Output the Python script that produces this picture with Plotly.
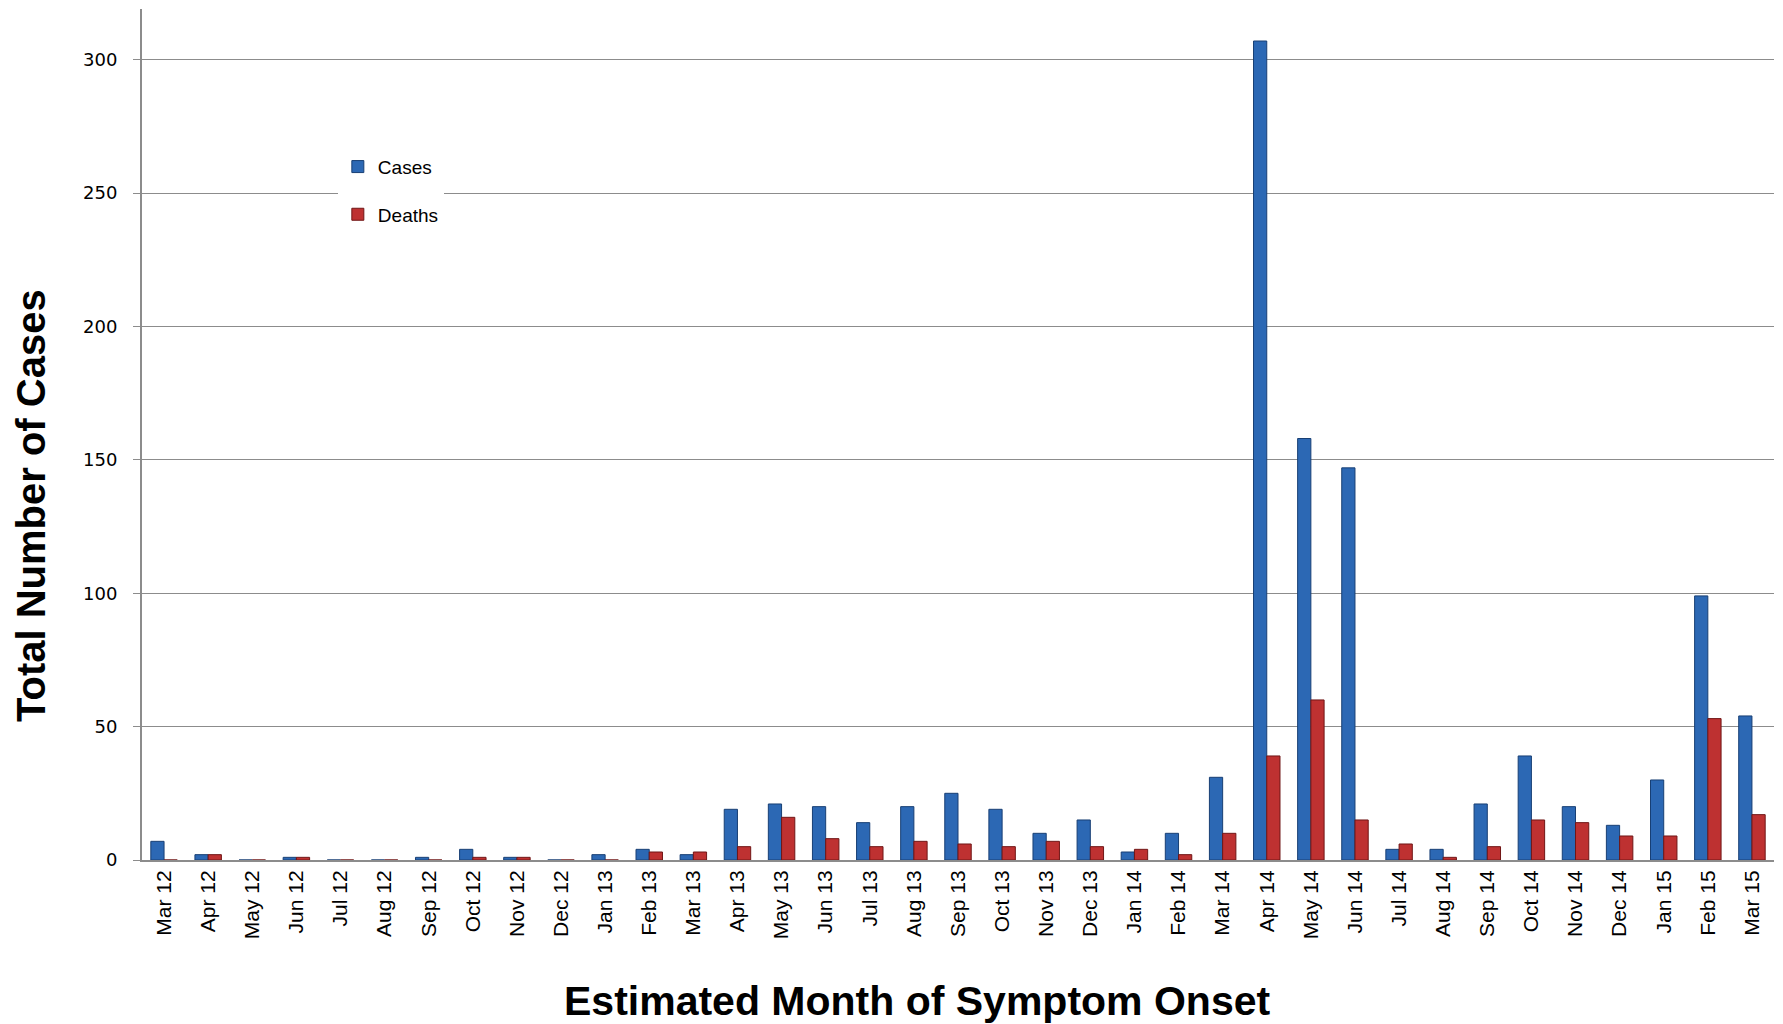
import plotly.graph_objects as go

months = ["Mar 12", "Apr 12", "May 12", "Jun 12", "Jul 12", "Aug 12", "Sep 12", "Oct 12",
          "Nov 12", "Dec 12", "Jan 13", "Feb 13", "Mar 13", "Apr 13", "May 13", "Jun 13",
          "Jul 13", "Aug 13", "Sep 13", "Oct 13", "Nov 13", "Dec 13", "Jan 14", "Feb 14",
          "Mar 14", "Apr 14", "May 14", "Jun 14", "Jul 14", "Aug 14", "Sep 14", "Oct 14",
          "Nov 14", "Dec 14", "Jan 15", "Feb 15", "Mar 15"]
cases = [7, 2, 0, 1, 0, 0, 1, 4, 1, 0, 2, 4, 2, 19, 21, 20, 14, 20, 25, 19, 10, 15, 3, 10,
         31, 307, 158, 147, 4, 4, 21, 39, 20, 13, 30, 99, 54]
deaths = [0, 2, 0, 1, 0, 0, 0, 1, 1, 0, 0, 3, 3, 5, 16, 8, 5, 7, 6, 5, 7, 5, 4, 2,
          10, 39, 60, 15, 6, 1, 5, 15, 14, 9, 9, 53, 17]
y_ticks = [0, 50, 100, 150, 200, 250, 300]

fig = go.Figure()
fig.add_trace(go.Bar(x=months, y=cases, name="Cases", legendgroup="c",
                     marker=dict(color="#2C68B4", line=dict(color="#183F74", width=1))))
fig.add_trace(go.Bar(x=months, y=deaths, name="Deaths", legendgroup="d",
                     marker=dict(color="#BE3131", line=dict(color="#701616", width=1))))

fig.update_layout(
    width=1783, height=1024,
    margin=dict(l=134, r=17, t=1, b=172),
    plot_bgcolor="white", paper_bgcolor="white",
    barmode="group", bargap=0.4, bargroupgap=0.0,
    showlegend=True,
    legend=dict(x=0.12, y=0.837, xanchor="left", yanchor="top",
                bgcolor="white", font=dict(family="Liberation Sans, Arial", size=19, color="black"),
                tracegroupgap=20, itemwidth=30),
    xaxis=dict(type="category", tickangle=-90, showgrid=False, ticks="",
               showline=True, linecolor="#8c8c8c", linewidth=2, layer="above traces",
               tickfont=dict(family="Liberation Sans, Arial", size=21, color="black")),
    yaxis=dict(range=[0, 319], tickvals=y_ticks, showgrid=True, gridcolor="#8c8c8c", gridwidth=1.3,
               showline=True, linecolor="#8c8c8c", linewidth=2, ticks="outside", ticklen=7,
               tickcolor="#8c8c8c", zeroline=False, ticklabelstandoff=12,
               tickfont=dict(family="DejaVu Sans", size=18, color="black")),
    annotations=[
        dict(text="<b>Total Number of Cases</b>", xref="paper", yref="paper", x=-0.068, y=0.416,
             textangle=-90, showarrow=False, xanchor="center", yanchor="middle",
             font=dict(family="Liberation Sans, Arial", size=40, color="black")),
        dict(text="<b>Estimated Month of Symptom Onset</b>", xref="paper", yref="paper",
             x=0.475, y=-0.166, showarrow=False, xanchor="center", yanchor="middle",
             font=dict(family="Liberation Sans, Arial", size=41, color="black")),
    ],
)

fig.write_html("out.html")
